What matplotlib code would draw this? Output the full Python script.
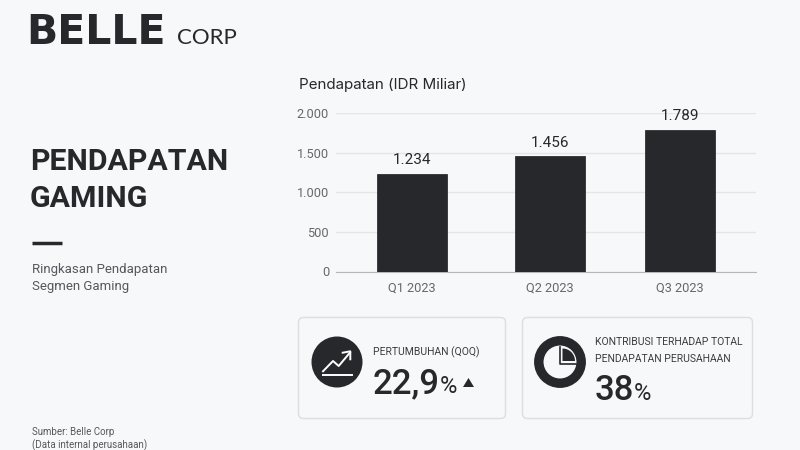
import matplotlib
matplotlib.use('Agg')
import matplotlib.pyplot as plt
from matplotlib.patches import Circle, FancyBboxPatch, Wedge, Polygon

# data
quarters = ['Q1 2023', 'Q2 2023', 'Q3 2023']
revenue = [1234, 1456, 1789]
revenue_labels = ['1.234', '1.456', '1.789']
y_ticks = [0, 500, 1000, 1500, 2000]
y_tick_labels = ['0', '500', '1.000', '1.500', '2.000']
growth_label = 'PERTUMBUHAN (QOQ)'
growth_value = '22,9'
share_label = ['KONTRIBUSI TERHADAP TOTAL', 'PENDAPATAN PERUSAHAAN']
share_value = '38'

DARK = '#26282b'
BG = '#f7f8fa'
plt.rcParams['font.family'] = ['Roboto', 'DejaVu Sans']

fig = plt.figure(figsize=(8, 4.5), dpi=100, facecolor=BG)

# whole figure in pixel coords for the text, cards and icons
bg = fig.add_axes([0, 0, 1, 1])
bg.set_xlim(0, 800)
bg.set_ylim(450, 0)
bg.axis('off')

# logo
bg.text(26, 44.5, 'BELLE', fontsize=29.5, family='DejaVu Sans', weight='bold', color=DARK, va='baseline')
bg.text(176.5, 44.5, 'CORP', fontsize=16, family='Lato', color=DARK, va='baseline')

# left column
bg.text(30, 170.5, 'PENDAPATAN', fontsize=21.8, weight='bold', color=DARK, va='baseline')
bg.text(30, 207, 'GAMING', fontsize=21.8, weight='bold', color=DARK, va='baseline')
bg.plot([32, 62], [242.5, 242.5], color=DARK, lw=2.5, solid_capstyle='butt')
bg.text(32, 273, 'Ringkasan Pendapatan', fontsize=9.5, color='#55585c', va='baseline')
bg.text(32, 290, 'Segmen Gaming', fontsize=9.5, color='#55585c', va='baseline')
bg.text(32, 435, 'Sumber: Belle Corp', fontsize=7, color='#55585c', va='baseline')
bg.text(32, 448, '(Data internal perusahaan)', fontsize=7, color='#55585c', va='baseline')

bg.text(299, 89, 'Pendapatan (IDR Miliar)', fontsize=10.9, color=DARK, va='baseline',
        family=['Inter', 'DejaVu Sans'])

# cards
for x0, x1 in [(298.5, 505.5), (522.5, 752.5)]:
    bg.add_patch(FancyBboxPatch((x0 + 5, 322.5), x1 - x0 - 10, 91, boxstyle='round,pad=5,rounding_size=5',
                                fc=BG, ec='#dcdee1', lw=1))

# growth icon
bg.add_patch(Circle((337, 362), 25.5, fc=DARK, ec='none'))
bg.plot([323, 351.5], [374.7, 374.7], color='white', lw=1.4)
bg.plot([323, 333, 338.7, 350], [371.3, 361, 366, 352.5], color='white', lw=1.4)
bg.plot([342.7, 350.3, 350.3], [352.7, 351.3, 359.3], color='white', lw=1.4)

# growth text
bg.text(373, 355, growth_label, fontsize=7.5, color='#3a3c40', va='baseline')
bg.text(373, 393, growth_value, fontsize=25, weight='medium', color=DARK, va='baseline')
bg.text(440, 393, '%', fontsize=17, color=DARK, va='baseline')
bg.add_patch(Polygon([[463, 387], [474, 387], [468.5, 378]], fc=DARK, ec='none'))

# share icon
bg.add_patch(Circle((560, 362), 21.2, fc=BG, ec=DARK, lw=6.8))
bg.plot([559.5, 559.5, 575.5], [347, 363.5, 363.5], color=DARK, lw=1.2)
bg.add_patch(Wedge((562.5, 361), 12.5, 270, 360, fc=DARK, ec='none'))

# share text
bg.text(595, 345, share_label[0], fontsize=7.5, color='#3a3c40', va='baseline')
bg.text(595, 362, share_label[1], fontsize=7.5, color='#3a3c40', va='baseline')
bg.text(595, 400, share_value, fontsize=25, weight='medium', color=DARK, va='baseline')
bg.text(633.5, 400, '%', fontsize=17, color=DARK, va='baseline')

# chart
bar_x = [412, 550, 680]
ax = fig.add_axes([336 / 800, 1 - 271.5 / 450, 420 / 800, 158.5 / 450])
ax.patch.set_alpha(0)
ax.bar(bar_x, revenue, width=70, color=DARK, edgecolor='#1c1d1f', lw=0.5, zorder=3)
ax.set_xlim(336, 756)
ax.set_ylim(0, 2000)
ax.set_yticks(y_ticks, y_tick_labels)
ax.set_xticks(bar_x, quarters)
ax.grid(axis='y', color='#e3e5e8', lw=1, zorder=0)
ax.set_axisbelow(True)
ax.tick_params(length=0, labelsize=9.2, labelcolor='#65686c')
ax.tick_params(axis='y', pad=5)
ax.tick_params(axis='x', pad=7)
for s in ['top', 'right', 'left']:
    ax.spines[s].set_visible(False)
ax.spines['bottom'].set_color('#b5b7ba')
for x, v, lab in zip(bar_x, revenue, revenue_labels):
    ax.annotate(lab, (x, v), xytext=(0, 4.5), textcoords='offset points', ha='center', va='bottom',
                fontsize=11, color=DARK, zorder=4, annotation_clip=False)

fig.savefig('out.png', dpi=100, facecolor=BG)
